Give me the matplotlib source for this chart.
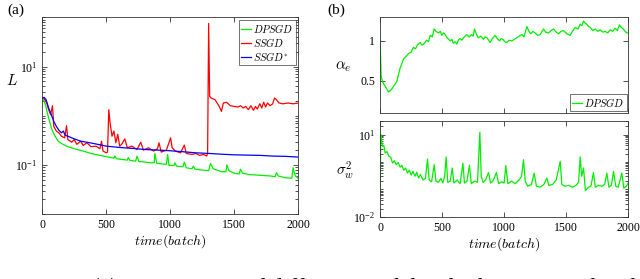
import numpy as np
import matplotlib
matplotlib.use("Agg")
import matplotlib.pyplot as plt
from matplotlib.ticker import LogLocator, FixedLocator, NullFormatter

plt.rcParams['font.family'] = ['Liberation Serif', 'DejaVu Serif']
plt.rcParams['mathtext.fontset'] = 'cm'

# ---- (a) loss curves ----
t_dp = [0, 10, 25, 40, 60, 80, 100, 125, 150, 190, 250, 320, 380, 450, 520, 560, 568, 580,
        620, 665, 672, 685, 730, 740, 755, 800, 850, 875, 880, 895, 930, 970, 980, 990,
        1030, 1036, 1050, 1100, 1110, 1125, 1170, 1180, 1195, 1250, 1300, 1315, 1335,
        1400, 1435, 1442, 1460, 1500, 1540, 1548, 1565, 1620, 1700, 1780, 1820, 1830,
        1845, 1900, 1950, 1960, 1975, 2000]
L_dp = [2.29, 2.12, 1.68, 1.14, 0.72, 0.49, 0.385, 0.305, 0.274, 0.242, 0.214, 0.192,
        0.172, 0.157, 0.145, 0.137, 0.152, 0.134, 0.130, 0.126, 0.143, 0.124, 0.120,
        0.152, 0.118, 0.115, 0.111, 0.111, 0.172, 0.108, 0.106, 0.103, 0.164, 0.098,
        0.098, 0.111, 0.095, 0.0925, 0.115, 0.088, 0.084, 0.095, 0.082, 0.079, 0.077,
        0.108, 0.084, 0.073, 0.073, 0.100, 0.076, 0.068, 0.066, 0.082, 0.068, 0.064,
        0.062, 0.060, 0.058, 0.070, 0.060, 0.055, 0.054, 0.088, 0.062, 0.053]

t_ss = [0, 10, 20, 35, 50, 65, 80, 90, 110, 130, 150, 175, 190, 200, 230, 250, 270, 300,
        320, 350, 380, 420, 450, 463, 475, 500, 510, 520, 530, 545, 560, 575, 590, 605,
        620, 645, 665, 700, 740, 770, 790, 830, 870, 900, 912, 930, 970, 1003, 1015,
        1040, 1080, 1110, 1125, 1170, 1200, 1230, 1260, 1285, 1292, 1300, 1308, 1320,
        1350, 1380, 1400, 1415, 1440, 1470, 1500, 1530, 1550, 1570, 1590, 1610, 1630,
        1650, 1665, 1680, 1700, 1715, 1730, 1745, 1760, 1780, 1800, 1815, 1830, 1850,
        1880, 1920, 1960, 2000]
L_ss = [2.29, 2.35, 2.12, 1.82, 1.33, 1.06, 1.60, 0.61, 0.49, 0.45, 0.385, 0.357, 0.63,
        0.33, 0.29, 0.33, 0.263, 0.305, 0.25, 0.283, 0.236, 0.242, 0.214, 0.305, 0.192,
        0.177, 0.183, 1.33, 0.72, 0.385, 0.49, 0.283, 0.42, 0.242, 0.263, 0.34, 0.224,
        0.242, 0.207, 0.29, 0.201, 0.224, 0.192, 0.214, 0.283, 0.183, 0.201, 0.357,
        0.224, 0.192, 0.177, 0.254, 0.172, 0.164, 0.172, 0.157, 0.164, 0.152, 0.177, 75,
        2.48, 2.29, 2.12, 1.60, 1.23, 1.82, 1.88, 1.60, 1.55, 1.51, 1.60, 1.44, 1.55,
        1.33, 1.60, 1.29, 1.55, 1.37, 1.76, 1.44, 1.88, 1.51, 1.82, 1.60, 1.75, 2.29,
        2.12, 1.82, 1.75, 1.82, 1.75, 1.82]

t_st = [0, 15, 30, 50, 70, 90, 110, 130, 150, 165, 180, 200, 250, 300, 350, 400, 450,
        500, 600, 700, 800, 900, 1000, 1100, 1200, 1300, 1400, 1500, 1600, 1700, 1800,
        1900, 2000]
L_st = [2.29, 2.36, 2.12, 1.44, 1.06, 0.774, 0.61, 0.51, 0.45, 0.49, 0.40, 0.385, 0.34,
        0.305, 0.29, 0.274, 0.258, 0.242, 0.228, 0.218, 0.207, 0.201, 0.195, 0.186,
        0.177, 0.172, 0.166, 0.161, 0.159, 0.157, 0.152, 0.150, 0.145]

# ---- (b) alpha_e and sigma_w^2 ----
t_a = [0, 8, 25, 45, 67, 90, 108, 134, 161, 188, 228, 250, 269, 285, 300, 323, 335, 350,
       376, 390, 403, 420, 435, 450, 470, 485, 497, 510, 520, 540, 565, 578, 590, 605,
       618, 630, 645, 660, 672, 685, 699, 718, 735, 750, 761, 775, 790, 812, 833, 845,
       860, 875, 887, 905, 927, 945, 962, 975, 990, 1005, 1022, 1040, 1062, 1080, 1102,
       1120, 1142, 1160, 1183, 1200, 1215, 1232, 1250, 1270, 1290, 1305, 1317, 1335,
       1358, 1378, 1398, 1420, 1438, 1458, 1478, 1505, 1532, 1550, 1573, 1595, 1613,
       1628, 1640, 1655, 1667, 1680, 1694, 1715, 1734, 1755, 1774, 1795, 1815, 1835,
       1855, 1875, 1895, 1912, 1930, 1945, 1960, 1975, 1989, 2000]
alpha = [1.0, 0.55, 0.47, 0.42, 0.36, 0.39, 0.43, 0.49, 0.66, 0.77, 0.84, 0.86, 0.92,
         0.90, 0.95, 0.98, 0.95, 0.96, 1.01, 0.99, 1.07, 1.05, 1.15, 1.12, 1.10, 1.12,
         1.07, 1.10, 1.09, 1.04, 1.0, 1.02, 0.97, 0.99, 0.96, 1.01, 1.03, 1.01, 1.04,
         1.06, 1.08, 1.05, 1.08, 1.06, 1.15, 1.09, 1.04, 1.06, 1.02, 1.05, 1.04, 1.01,
         0.98, 1.03, 1.07, 1.03, 1.0, 1.03, 1.02, 0.99, 0.98, 1.01, 1.0, 1.02, 1.04,
         1.06, 1.08, 1.05, 1.18, 1.12, 1.09, 1.12, 1.10, 1.07, 1.08, 1.12, 1.15, 1.11,
         1.10, 1.13, 1.15, 1.11, 1.09, 1.12, 1.13, 1.09, 1.07, 1.12, 1.17, 1.15, 1.21,
         1.19, 1.25, 1.22, 1.21, 1.18, 1.17, 1.13, 1.15, 1.12, 1.14, 1.11, 1.12, 1.10,
         1.14, 1.12, 1.16, 1.13, 1.20, 1.17, 1.15, 1.12, 1.10, 1.10]

t_s = [0, 5, 12, 20, 30, 40, 55, 70, 85, 100, 115, 130, 145, 160, 175, 190, 205, 220, 235,
       250, 265, 280, 295, 310, 325, 345, 365, 382, 395, 415, 436, 450, 470, 490, 505,
       520, 532, 545, 565, 581, 595, 620, 645, 667, 680, 700, 720, 735, 760, 785, 804,
       815, 830, 850, 874, 890, 910, 938, 955, 980, 1000, 1013, 1030, 1060, 1090, 1120,
       1140, 1156, 1170, 1190, 1220, 1242, 1260, 1290, 1320, 1344, 1360, 1390, 1420,
       1452, 1465, 1490, 1520, 1550, 1580, 1600, 1613, 1625, 1640, 1655, 1680, 1700,
       1720, 1735, 1760, 1790, 1810, 1828, 1845, 1865, 1882, 1900, 1920, 1949, 1965,
       1985, 2000]
sigma = [0.072, 10, 6.0, 3.7, 4.0, 2.1, 2.4, 1.6, 1.5, 0.91, 1.1, 0.8, 0.95, 0.65, 0.75,
         0.5, 0.6, 0.39, 0.5, 0.33, 0.45, 0.3, 0.42, 0.26, 0.35, 0.22, 0.25, 1.28, 0.22,
         0.19, 0.79, 0.2, 0.18, 0.25, 0.17, 0.3, 1.51, 0.18, 0.2, 0.6, 0.17, 0.22, 0.16,
         0.9, 0.17, 0.2, 0.75, 0.16, 0.2, 0.18, 12, 0.3, 0.18, 0.22, 0.41, 0.17, 0.2,
         0.41, 0.16, 0.19, 0.17, 0.74, 0.16, 0.2, 0.16, 0.22, 0.3, 1.2, 0.2, 0.13, 0.15,
         0.39, 0.13, 0.12, 0.15, 0.26, 0.14, 0.15, 0.22, 1.05, 0.15, 0.13, 0.14, 0.12,
         0.14, 0.18, 1.51, 0.3, 0.6, 0.09, 0.12, 0.13, 0.41, 0.12, 0.14, 0.13, 0.15, 0.39,
         0.12, 0.14, 0.45, 0.13, 0.12, 0.39, 0.11, 0.13, 0.17]

x_ticks = [0, 500, 1000, 1500, 2000]
GREEN = '#00ee00'
tick_fs = 8.5


def matlab_style(ax):
    ax.tick_params(which='both', direction='in', top=True, right=True,
                   labelsize=tick_fs, color='#333333', width=0.6)
    ax.tick_params(which='major', length=3.5)
    ax.tick_params(which='minor', length=2)
    for s in ax.spines.values():
        s.set_linewidth(0.6)
        s.set_color('#333333')


def small_legend(ax, loc, pad):
    leg = ax.legend(loc=loc, fontsize=7.5, frameon=True, fancybox=False,
                    edgecolor='#333333', handlelength=1.0, handletextpad=0.2,
                    borderpad=0.2, labelspacing=0.1, borderaxespad=pad)
    leg.get_frame().set_linewidth(0.6)
    return leg


fig = plt.figure(figsize=(6.4, 2.79), dpi=100)

ax1 = fig.add_axes([0.066, 0.232, 0.400, 0.706])
ax1.plot(t_dp, L_dp, color=GREEN, lw=0.9, label=r'$DPSGD$')
ax1.plot(t_ss, L_ss, color='#ff0000', lw=0.9, label=r'$SSGD$')
ax1.plot(t_st, L_st, color='#0000ff', lw=0.9, label=r'$SSGD^{*}$')
ax1.set_yscale('log')
ax1.set_xlim(0, 2000)
ax1.set_ylim(0.01, 100)
ax1.set_xticks(x_ticks)
ax1.yaxis.set_major_locator(FixedLocator([0.1, 10]))
ax1.set_yticklabels([r'$\mathregular{10^{-1}}$', r'$\mathregular{10^{1}}$'])
ax1.yaxis.set_minor_locator(LogLocator(base=10, subs=np.arange(1, 10), numticks=20))
ax1.yaxis.set_minor_formatter(NullFormatter())
matlab_style(ax1)
ax1.set_xlabel(r'$time(batch)$', fontsize=10, labelpad=1)
ax1.set_ylabel(r'$L$', fontsize=11, rotation=0, va='center', ha='center')
ax1.yaxis.set_label_coords(-0.118, 0.68)
small_legend(ax1, 'upper right', 0.25)

ax2 = fig.add_axes([0.594, 0.596, 0.3875, 0.343])
ax2.plot(t_a, alpha, color=GREEN, lw=0.9, label=r'$DPSGD$')
ax2.set_xlim(0, 2000)
ax2.set_ylim(0.1, 1.3)
ax2.set_xticks(x_ticks)
ax2.set_xticklabels([])
ax2.set_yticks([0.5, 1])
ax2.set_yticklabels(['0.5', '1'])
matlab_style(ax2)
ax2.set_ylabel(r'$\alpha_e$', fontsize=11, rotation=0, va='center', ha='center')
ax2.yaxis.set_label_coords(-0.15, 0.48)
small_legend(ax2, 'lower right', 0.15)

ax3 = fig.add_axes([0.594, 0.223, 0.3875, 0.344])
ax3.plot(t_s, sigma, color=GREEN, lw=0.9)
ax3.set_yscale('log')
ax3.set_xlim(0, 2000)
ax3.set_ylim(0.01, 31.6)
ax3.set_xticks(x_ticks)
ax3.yaxis.set_major_locator(FixedLocator([0.01, 10]))
ax3.set_yticklabels([r'$\mathregular{10^{-2}}$', r'$\mathregular{10^{1}}$'])
ax3.yaxis.set_minor_locator(LogLocator(base=10, subs=np.arange(1, 10), numticks=20))
ax3.yaxis.set_minor_formatter(NullFormatter())
matlab_style(ax3)
ax3.set_xlabel(r'$time(batch)$', fontsize=10, labelpad=1)
ax3.set_ylabel(r'$\sigma_w^2$', fontsize=11, rotation=0, va='center', ha='center')
ax3.yaxis.set_label_coords(-0.14, 0.48)

fig.text(0.011, 0.965, '(a)', fontsize=11, va='center')
fig.text(0.512, 0.965, '(b)', fontsize=11, va='center')

# caption of the source figure, only its top edge is visible
fig.text(0.0, -0.052, 'Figure 2: (a) Comparison of different models which are trained and',
         fontsize=17, va='baseline', ha='left')

fig.savefig('out.png', dpi=100)
